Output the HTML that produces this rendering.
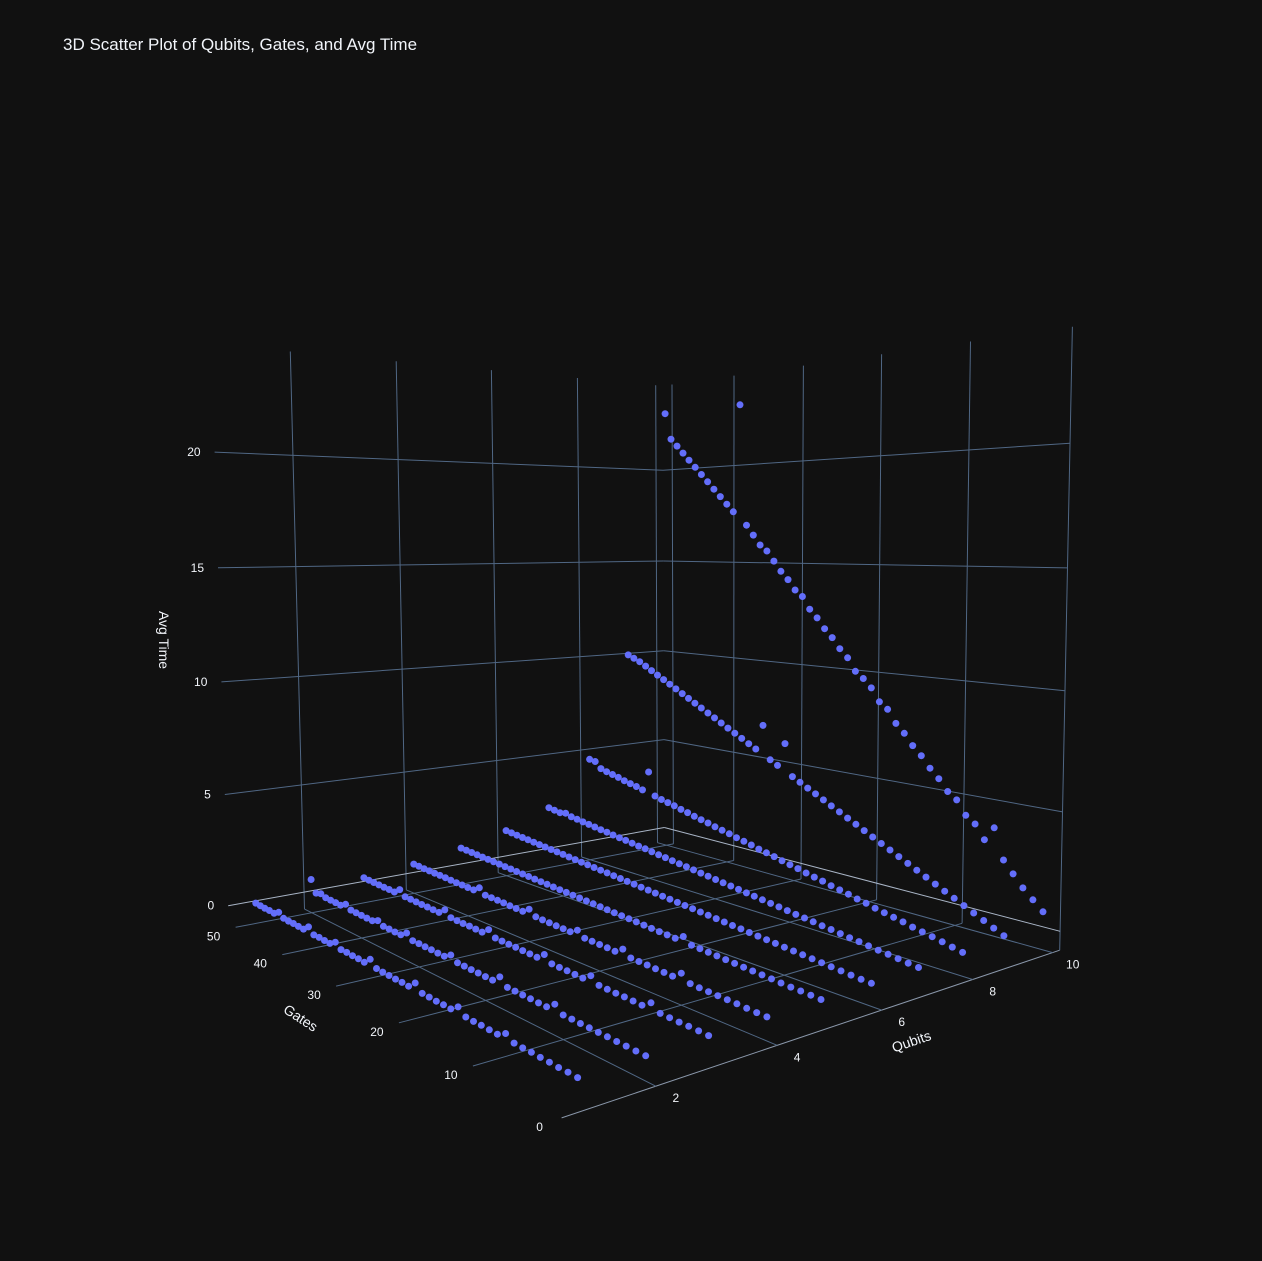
<!DOCTYPE html>
<html><head><meta charset="utf-8">
<style>
html,body{margin:0;padding:0;background:#111111;}
#wrap{position:relative;width:1262px;height:1261px;background:#111111;overflow:hidden;font-family:"Liberation Sans",sans-serif;}
svg text{font-family:"Liberation Sans",sans-serif;fill:#f2f5fa;}
</style></head>
<body>
<div id="wrap">
<svg id="chart" width="1262" height="1261" viewBox="0 0 1262 1261">
<text x="63" y="50" font-size="17">3D Scatter Plot of Qubits, Gates, and Avg Time</text>
<g id="grid"></g>
<g id="ticks"></g>
<g id="points"></g>
<text x="0" y="0" font-size="14" transform="translate(159,640) rotate(90)" text-anchor="middle">Avg Time</text>
<text x="0" y="0" font-size="14" transform="translate(298,1022) rotate(33)" text-anchor="middle">Gates</text>
<text x="0" y="0" font-size="14" transform="translate(913,1046) rotate(-19)" text-anchor="middle">Qubits</text>
</svg>
</div>
<script>
// ---- data ----
const qubits = [1,2,3,4,5,6,7,8,9,10];
const gates = [1,2,3,4,5,6,7,8,9,10,11,12,13,14,15,16,17,18,19,20,21,22,23,24,25,26,27,28,29,30,31,32,33,34,35,36,37,38,39,40,41,42,43,44,45,46,47,48,49,50];
const timeQ1 = [0.01,0.02,0.01,0.02,0.02,0.03,0.02,0.03,0.2,0.03,0.03,0.04,0.03,0.04,0.25,0.04,0.05,0.04,0.05,0.05,0.3,0.05,0.06,0.05,0.06,0.06,0.07,0.3,0.06,0.07,0.07,0.08,0.07,0.25,0.08,0.08,0.09,0.08,0.3,0.09,0.09,0.1,0.09,0.1,0.25,0.1,0.11,0.1,0.11,0.12];
const timeQ2 = [0.02,0.02,0.03,0.03,0.04,0.04,0.05,0.05,0.06,0.06,0.3,0.07,0.07,0.08,0.08,0.09,0.09,0.35,0.1,0.1,0.11,0.11,0.12,0.12,0.3,0.13,0.13,0.14,0.14,0.15,0.15,0.35,0.16,0.16,0.17,0.17,0.3,0.18,0.18,0.19,0.19,0.2,0.35,0.2,0.21,0.21,0.22,0.3,0.22,0.75];
const timeQ3 = [0.03,0.04,0.05,0.05,0.06,0.07,0.3,0.08,0.09,0.1,0.1,0.11,0.12,0.35,0.13,0.14,0.15,0.15,0.16,0.4,0.17,0.18,0.19,0.2,0.2,0.21,0.22,0.45,0.23,0.24,0.25,0.25,0.26,0.27,0.5,0.28,0.29,0.3,0.3,0.31,0.32,0.33,0.55,0.34,0.35,0.35,0.36,0.37,0.38,0.4];
const timeQ4 = [0.04,0.05,0.06,0.08,0.09,0.1,0.11,0.12,0.14,0.4,0.16,0.17,0.18,0.2,0.21,0.22,0.45,0.24,0.26,0.27,0.28,0.29,0.5,0.32,0.33,0.34,0.35,0.36,0.38,0.6,0.4,0.41,0.42,0.44,0.45,0.46,0.47,0.7,0.5,0.51,0.52,0.53,0.54,0.56,0.57,0.58,0.59,0.6,0.62,0.63];
const timeQ5 = [0.05,0.07,0.09,0.1,0.12,0.14,0.16,0.18,0.2,0.22,0.24,0.26,0.28,0.3,0.32,0.55,0.36,0.38,0.4,0.42,0.44,0.46,0.48,0.5,0.52,0.54,0.56,0.58,0.6,0.62,0.64,0.66,0.68,0.7,0.72,0.74,0.76,0.78,0.8,0.82,0.84,0.86,0.88,0.9,0.92,0.94,0.96,0.98,1.0,1.02];
const timeQ6 = [0.06,0.08,0.11,0.14,0.17,0.2,0.23,0.26,0.29,0.32,0.35,0.38,0.41,0.44,0.47,0.5,0.53,0.56,0.59,0.62,0.65,0.68,0.71,0.74,0.77,0.8,0.83,0.86,0.89,0.92,0.95,0.98,1.01,1.04,1.07,1.1,1.13,1.16,1.19,1.22,1.25,1.28,1.31,1.34,1.37,1.4,1.43,1.46,1.49,1.52];
const timeQ7 = [0.1,0.14,0.19,0.24,0.28,0.33,0.38,0.42,0.47,0.52,0.56,0.61,0.66,0.7,0.75,0.8,0.84,0.89,0.94,0.98,1.03,1.08,1.12,1.17,1.22,1.26,1.31,1.36,1.4,1.45,1.5,1.54,1.59,1.64,1.68,1.73,1.78,1.82,1.87,1.92,1.96,2.01,2.06,2.1,2.15,2.2,2.3,2.25,2.3,2.35];
const timeQ8 = [0.15,0.24,0.33,0.42,0.5,0.58,0.68,0.76,0.84,0.92,1.02,1.1,1.2,1.28,1.36,1.46,1.54,1.62,1.72,1.8,1.88,1.98,2.06,2.14,2.24,2.32,2.4,2.5,2.58,2.66,2.76,2.84,2.92,3.02,3.1,3.2,3.28,3.36,3.46,4.6,3.62,3.72,3.8,3.88,3.98,4.06,4.14,4.24,4.55,4.6];
const timeQ9 = [0.3,0.5,0.7,0.9,1.1,1.3,1.5,1.7,1.9,2.1,2.3,2.5,2.7,2.9,3.1,3.3,3.5,3.7,3.9,4.1,4.3,4.5,4.7,4.9,5.1,6.6,5.5,5.7,7.3,6.1,6.3,6.5,6.7,6.9,7.1,7.3,7.5,7.7,7.9,8.1,8.3,8.5,8.7,8.9,9.1,9.3,9.5,9.7,9.85,10.0];
const timeQ10 = [0.8,1.2,1.6,2.1,2.6,3.9,3.3,3.9,4.2,4.8,5.1,5.6,6.0,6.5,6.9,7.4,7.8,8.4,8.7,9.3,9.7,10.0,10.6,11.0,11.5,11.9,12.4,12.8,13.4,13.7,14.2,14.6,15.1,15.6,15.9,16.4,16.9,23.0,17.6,18.0,18.4,18.8,19.2,19.6,20.0,20.4,20.8,21.2,21.6,23.0];
const avgTimeRows = [timeQ1,timeQ2,timeQ3,timeQ4,timeQ5,timeQ6,timeQ7,timeQ8,timeQ9,timeQ10];
const qubitTicks = [2,4,6,8,10];
const gateTicks = [0,10,20,30,40,50];
const timeTicks = [0,5,10,15,20];

// ---- axis ranges (scene box) ----
const Q0=0.64, Q1=10.19, G0=0, G1=51.6, Z0=-0.8, Z1=24.6;
// camera calibration: box reference points -> screen (fits a perspective projection)
const calib = [
 [2,0,-0.8,655,1088],[10,0,-0.8,1050,950],[0.64,10,-0.8,473,1065],[0.64,50,-0.8,235,927],
 [0.64,51.6,0,228,906],[0.64,51.6,20,217,454],[10.19,51.6,20,664,473],[10.19,51.6,0,664,827],
 [2,51.6,24.6,289,349],[10.19,0,24.6,1071,327],[10.19,0,5,1065,813],[10.19,0,0,1062,932],
 [10,51.6,24.6,654,384],[10.19,40,24.6,735,375]
];
function norm(q,g,z){return [(q-Q0)/(Q1-Q0),(g-G0)/(G1-G0),(z-Z0)/(Z1-Z0)];}
function solveLin(M,v){
  const n=v.length;const A=M.map((r,i)=>r.concat([v[i]]));
  for(let c=0;c<n;c++){let p=c;for(let r=c+1;r<n;r++)if(Math.abs(A[r][c])>Math.abs(A[p][c]))p=r;
    [A[c],A[p]]=[A[p],A[c]];
    for(let r=0;r<n;r++){if(r===c)continue;const f=A[r][c]/A[c][c];for(let k=c;k<=n;k++)A[r][k]-=f*A[c][k];}}
  return A.map((r,i)=>r[n]/r[i]);
}
const P=(function(){
  const rows=[],rhs=[];
  calib.forEach(c=>{const [X,Y,Z]=norm(c[0],c[1],c[2]);const x=c[3]/1000,y=c[4]/1000;
    rows.push([X,Y,Z,1,0,0,0,0,-x*X,-x*Y,-x*Z]);rhs.push(x);
    rows.push([0,0,0,0,X,Y,Z,1,-y*X,-y*Y,-y*Z]);rhs.push(y);});
  const M=[],v=[];
  for(let i=0;i<11;i++){M.push([]);let s=0;for(let j=0;j<11;j++){let t=0;for(let k=0;k<rows.length;k++)t+=rows[k][i]*rows[k][j];M[i].push(t);}
    for(let k=0;k<rows.length;k++)s+=rows[k][i]*rhs[k];v.push(s);}
  return solveLin(M,v);
})();
function proj(q,g,z){const [X,Y,Z]=norm(q,g,z);const w=P[8]*X+P[9]*Y+P[10]*Z+1;
  return [1000*(P[0]*X+P[1]*Y+P[2]*Z+P[3])/w,1000*(P[4]*X+P[5]*Y+P[6]*Z+P[7])/w];}

const NS='http://www.w3.org/2000/svg';
const gridG=document.getElementById('grid'),tickG=document.getElementById('ticks'),ptG=document.getElementById('points');
function line(a,b,name,color){const l=document.createElementNS(NS,'line');
  l.setAttribute('x1',a[0].toFixed(1));l.setAttribute('y1',a[1].toFixed(1));l.setAttribute('x2',b[0].toFixed(1));l.setAttribute('y2',b[1].toFixed(1));
  l.setAttribute('stroke',color||'#506784');l.setAttribute('stroke-width','1');
  
  
  gridG.appendChild(l);}
function label(p,txt,anchor,name){const t=document.createElementNS(NS,'text');
  t.setAttribute('x',p[0].toFixed(1));t.setAttribute('y',p[1].toFixed(1));t.setAttribute('font-size','12');
  t.setAttribute('text-anchor',anchor);t.textContent=txt;
  
  
  tickG.appendChild(t);}

// floor grid
gateTicks.forEach(g=>line(proj(Q0,g,Z0),proj(Q1,g,Z0),'floor-gridline-gates-'+g,g===0?'#8a97aa':'#506784'));
qubitTicks.forEach(q=>line(proj(q,G0,Z0),proj(q,G1,Z0),'floor-gridline-qubits-'+q));
// back-left wall (gates = max)
qubitTicks.forEach(q=>line(proj(q,G1,Z0),proj(q,G1,Z1),'wall-gridline-qubits-'+q));
timeTicks.forEach(z=>line(proj(Q0,G1,z),proj(Q1,G1,z),'wall-gridline-time-left-'+z,z===0?'#a9b5c6':'#506784'));
// back-right wall (qubits = max)
gateTicks.forEach(g=>line(proj(Q1,g,Z0),proj(Q1,g,Z1),'wall-gridline-gates-'+g));
timeTicks.forEach(z=>line(proj(Q1,G0,z),proj(Q1,G1,z),'wall-gridline-time-right-'+z,z===0?'#a9b5c6':'#506784'));

// tick labels
timeTicks.forEach(z=>{const p=proj(Q0,G1,z);label([p[0]-14,p[1]+4],String(z),'end','z-tick-'+z);});
gateTicks.forEach(g=>{const p=proj(Q0,g,Z0);label([p[0]-22,p[1]+13],String(g),'middle','gates-tick-'+g);});
qubitTicks.forEach(q=>{const p=proj(q,G0,Z0);label([p[0]+20,p[1]+16],String(q),'middle','qubits-tick-'+q);});

// points
qubits.forEach((q,qi)=>{
  const row=avgTimeRows[qi];
  gates.forEach((g,gi)=>{
    const p=proj(q,g,row[gi]);
    const c=document.createElementNS(NS,'circle');
    c.setAttribute('cx',p[0].toFixed(1));c.setAttribute('cy',p[1].toFixed(1));c.setAttribute('r','3.5');c.setAttribute('fill','#636efa');
    
    
    ptG.appendChild(c);
  });
});
</script>
</body></html>
